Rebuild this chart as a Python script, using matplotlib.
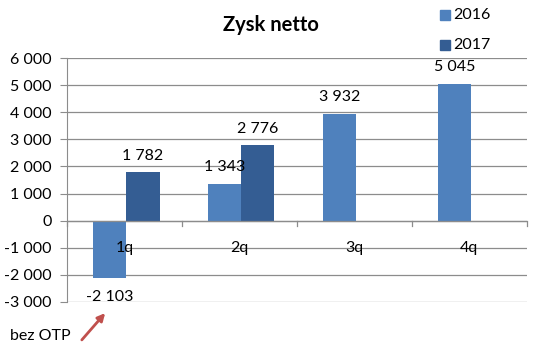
import numpy as np
import matplotlib.pyplot as plt
from matplotlib.patches import FancyArrowPatch

quarters = ['1q', '2q', '3q', '4q']
zysk_2016 = [-2103, 1343, 3932, 5045]
zysk_2017 = [1782, 2776, np.nan, np.nan]
series = ['2016', '2017']
colors = ['#4F81BD', '#345D93']

FONT = 'Lato'
plt.rcParams['font.family'] = [FONT, 'DejaVu Sans']


def fmt(v):
    return f'{int(v):,}'.replace(',', ' ')


fig = plt.figure(figsize=(5.47, 3.56), dpi=100)
ax = fig.add_axes([0.1225, 0.1517, 0.8405, 0.6853])

x = np.arange(len(quarters))
w = 0.29
b1 = ax.bar(x - w / 2 + 0.015, zysk_2016, w, color=colors[0], zorder=2)
b2 = ax.bar(x + w / 2 + 0.015, zysk_2017, w, color=colors[1], zorder=2)

for bars, vals in [(b1, zysk_2016), (b2, zysk_2017)]:
    for r, v in zip(bars, vals):
        if np.isnan(v):
            continue
        cx = r.get_x() + r.get_width() / 2
        if v >= 0:
            ax.text(cx, v + 620, fmt(v), ha='center', va='center', fontsize=11.5)
        else:
            ax.text(cx, v - 700, fmt(v), ha='center', va='center', fontsize=11.5)

ax.set_xlim(-0.5, 3.5)
ax.set_ylim(-3000, 6000)
ax.set_yticks(range(-3000, 6001, 1000))
ax.set_yticklabels([fmt(t) for t in range(-3000, 6001, 1000)], fontsize=11.5)
ax.yaxis.grid(True, color='#8C8C8C', lw=0.9, zorder=0)
ax.tick_params(axis='y', length=5, color='#8C8C8C', pad=6)
ax.set_xticks([])

for s in ['top', 'right', 'bottom']:
    ax.spines[s].set_visible(False)
ax.spines['left'].set_color('#8C8C8C')

# category axis at zero with boundary ticks
ax.axhline(0, color='#8C8C8C', lw=0.9, zorder=3)
for b in np.arange(-0.5, 3.6, 1.0):
    ax.plot([b, b], [0, -180], color='#8C8C8C', lw=0.9, clip_on=False, zorder=3)
for xi, q in zip(x, quarters):
    ax.text(xi, -1000, q, ha='center', va='center', fontsize=11.5, zorder=4)

fig.text(0.495, 0.93, 'Zysk netto', ha='center', va='center',
         fontsize=14.5, fontweight='bold')

# legend
for i, (s, c) in enumerate(zip(series, colors)):
    yy = 1 - (15 + 30 * i) / 356
    fig.patches.append(plt.Rectangle((440 / 547, yy - 0.015), 0.018, 0.028,
                                     transform=fig.transFigure, color=c))
    fig.text(453 / 547, yy, s, ha='left', va='center', fontsize=11.5)

fig.text(10 / 547, 1 - 336 / 356, 'bez OTP', ha='left', va='center', fontsize=11.5)
arrow = FancyArrowPatch((80 / 547, 1 - 342 / 356), (107 / 547, 1 - 311 / 356),
                        transform=fig.transFigure, arrowstyle='-|>',
                        mutation_scale=11, color='#C0504D', lw=2)
fig.patches.append(arrow)

fig.savefig('out.png', dpi=100)
